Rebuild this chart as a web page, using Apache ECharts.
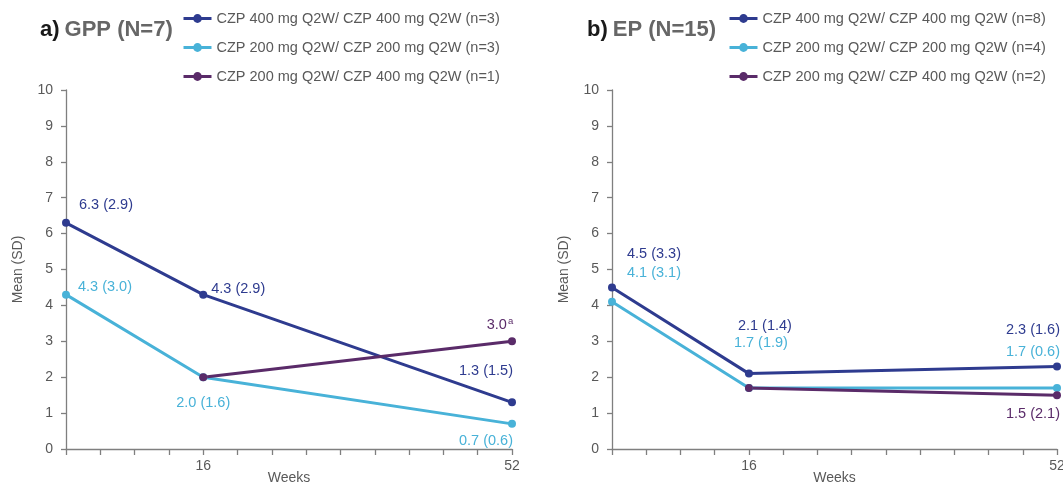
<!DOCTYPE html>
<html>
<head>
<meta charset="utf-8">
<script src="https://cdn.jsdelivr.net/npm/echarts@6/dist/echarts.min.js"></script>
<style>
  html, body { margin: 0; padding: 0; background: #ffffff; }
  #chart { width: 1063px; height: 486px; }
</style>
</head>
<body>
<div id="chart"></div>
<script>
// ---------- Data ----------
const WEEKS = [0, 16, 52];
const X_TICK_LABELS = [16, 52];

const SERIES_NAMES_GPP = [
  'CZP 400 mg Q2W/ CZP 400 mg Q2W (n=3)',
  'CZP 200 mg Q2W/ CZP 200 mg Q2W (n=3)',
  'CZP 200 mg Q2W/ CZP 400 mg Q2W (n=1)'
];
const SERIES_NAMES_EP = [
  'CZP 400 mg Q2W/ CZP 400 mg Q2W (n=8)',
  'CZP 200 mg Q2W/ CZP 200 mg Q2W (n=4)',
  'CZP 200 mg Q2W/ CZP 400 mg Q2W (n=2)'
];

// a) GPP (N=7)
const GPP_400_400_MEAN = [6.3, 4.3, 1.3];
const GPP_400_400_SD   = [2.9, 2.9, 1.5];
const GPP_200_200_MEAN = [4.3, 2.0, 0.7];
const GPP_200_200_SD   = [3.0, 1.6, 0.6];
const GPP_200_400_MEAN = [null, 2.0, 3.0];
const GPP_200_400_SD   = [null, null, null];
const GPP_200_400_NOTE = [null, null, 'a'];

// b) EP (N=15)
const EP_400_400_MEAN = [4.5, 2.1, 2.3];
const EP_400_400_SD   = [3.3, 1.4, 1.6];
const EP_200_200_MEAN = [4.1, 1.7, 1.7];
const EP_200_200_SD   = [3.1, 1.9, 0.6];
const EP_200_400_MEAN = [null, 1.7, 1.5];
const EP_200_400_SD   = [null, null, 2.1];

// ---------- Styling / layout ----------
const FONT = '"Liberation Sans", Arial, Helvetica, sans-serif';
const C_DARK = '#2e3b8f';
const C_LIGHT = '#48b2d8';
const C_PURPLE = '#5a2b69';
const C_TEXT = '#595959';
const C_AXIS = '#7f7f7f';

// label offsets (px) relative to the point; null = no label
const LABEL_OFFSETS = {
  gppDark:   [[40, -18], [35, -6], [-26, -31]],
  gppLight:  [[39, -8], [0, 26], [-26, 17]],
  gppPurple: [null, null, [-12, -16]],
  epDark:    [[42, -33], [16, -48], [-24, -36]],
  epLight:   [[42, -29], [12, -45], [-24, -36]],
  epPurple:  [null, null, [-24, 19]]
};

function buildSeries(name, color, means, sds, notes, offsets, axisIdx) {
  const data = [];
  WEEKS.forEach((w, i) => {
    if (means[i] == null) return;
    const off = offsets[i];
    let text = '';
    if (off) {
      text = '{m|' + means[i].toFixed(1) + (sds[i] != null ? ' (' + sds[i].toFixed(1) + ')' : '') + '}';
      if (notes && notes[i]) text += '{s|' + notes[i] + '}';
    }
    data.push({
      value: [w, means[i]],
      label: off ? {
        show: true,
        position: 'inside',
        offset: off,
        formatter: text,
        rich: {
          m: { color: color, fontSize: 14.5, fontFamily: FONT },
          s: { color: color, fontSize: 9.5, fontFamily: FONT, padding: [0, 0, 7, 1] }
        }
      } : { show: false }
    });
  });
  return {
    name: name,
    type: 'line',
    xAxisIndex: axisIdx,
    yAxisIndex: axisIdx,
    data: data,
    symbol: 'circle',
    symbolSize: 8,
    itemStyle: { color: color },
    lineStyle: { color: color, width: 3 },
    emphasis: { disabled: true },
    animation: false
  };
}

function xAxis(gridIndex) {
  return {
    type: 'value',
    gridIndex: gridIndex,
    min: 0, max: 52, interval: 4,
    name: 'Weeks',
    nameLocation: 'middle',
    nameGap: 22,
    nameMoveOverlap: false,
    nameTextStyle: { color: C_TEXT, fontSize: 14, fontFamily: FONT },
    axisLine: { show: true, lineStyle: { color: C_AXIS, width: 1.3 } },
    axisTick: { show: true, length: 6, lineStyle: { color: C_AXIS, width: 1.3 } },
    axisLabel: {
      color: C_TEXT, fontSize: 14, fontFamily: FONT, margin: 10,
      showMinLabel: true, showMaxLabel: true,
      formatter: v => (X_TICK_LABELS.indexOf(v) >= 0 ? String(v) : '')
    },
    splitLine: { show: false }
  };
}

function yAxis(gridIndex) {
  return {
    type: 'value',
    gridIndex: gridIndex,
    min: 0, max: 10, interval: 1,
    name: 'Mean (SD)',
    nameLocation: 'middle',
    nameRotate: 90,
    nameGap: 41,
    nameMoveOverlap: false,
    nameTextStyle: { color: C_TEXT, fontSize: 14, fontFamily: FONT },
    axisLine: { show: true, lineStyle: { color: C_AXIS, width: 1.3 } },
    axisTick: { show: true, length: 5, lineStyle: { color: C_AXIS, width: 1.3 } },
    axisLabel: { color: C_TEXT, fontSize: 14, fontFamily: FONT, margin: 13 },
    splitLine: { show: false }
  };
}

function legend(names, left) {
  return {
    data: names,
    orient: 'vertical',
    left: left,
    top: 11,
    padding: 0,
    itemWidth: 28,
    itemHeight: 11,
    itemGap: 14,
    selectedMode: false,
    lineStyle: { width: 3 },
    textStyle: { color: C_TEXT, fontSize: 14.5, fontFamily: FONT, lineHeight: 15 }
  };
}

function title(letter, rest, left) {
  return {
    text: '{a|' + letter + '} {b|' + rest + '}',
    left: left,
    top: 19,
    padding: 0,
    textStyle: {
      rich: {
        a: { color: '#1a1a1a', fontSize: 22, fontWeight: 'bold', fontFamily: FONT },
        b: { color: '#666666', fontSize: 22, fontWeight: 'bold', fontFamily: FONT }
      }
    }
  };
}

const option = {
  backgroundColor: '#ffffff',
  animation: false,
  title: [title('a)', 'GPP (N=7)', 40), title('b)', 'EP (N=15)', 587)],
  legend: [legend(SERIES_NAMES_GPP, 182), legend(SERIES_NAMES_EP, 728)],
  grid: [
    { left: 66, top: 90, width: 446, height: 359, outerBoundsMode: 'none', containLabel: false },
    { left: 612, top: 90, width: 445, height: 359, outerBoundsMode: 'none', containLabel: false }
  ],
  xAxis: [xAxis(0), xAxis(1)],
  yAxis: [yAxis(0), yAxis(1)],
  series: [
    buildSeries(SERIES_NAMES_GPP[0], C_DARK, GPP_400_400_MEAN, GPP_400_400_SD, null, LABEL_OFFSETS.gppDark, 0),
    buildSeries(SERIES_NAMES_GPP[1], C_LIGHT, GPP_200_200_MEAN, GPP_200_200_SD, null, LABEL_OFFSETS.gppLight, 0),
    buildSeries(SERIES_NAMES_GPP[2], C_PURPLE, GPP_200_400_MEAN, GPP_200_400_SD, GPP_200_400_NOTE, LABEL_OFFSETS.gppPurple, 0),
    buildSeries(SERIES_NAMES_EP[0], C_DARK, EP_400_400_MEAN, EP_400_400_SD, null, LABEL_OFFSETS.epDark, 1),
    buildSeries(SERIES_NAMES_EP[1], C_LIGHT, EP_200_200_MEAN, EP_200_200_SD, null, LABEL_OFFSETS.epLight, 1),
    buildSeries(SERIES_NAMES_EP[2], C_PURPLE, EP_200_400_MEAN, EP_200_400_SD, null, LABEL_OFFSETS.epPurple, 1)
  ]
};

const chart = echarts.init(document.getElementById('chart'), null, { renderer: 'canvas' });
chart.setOption(option);
</script>
</body>
</html>
